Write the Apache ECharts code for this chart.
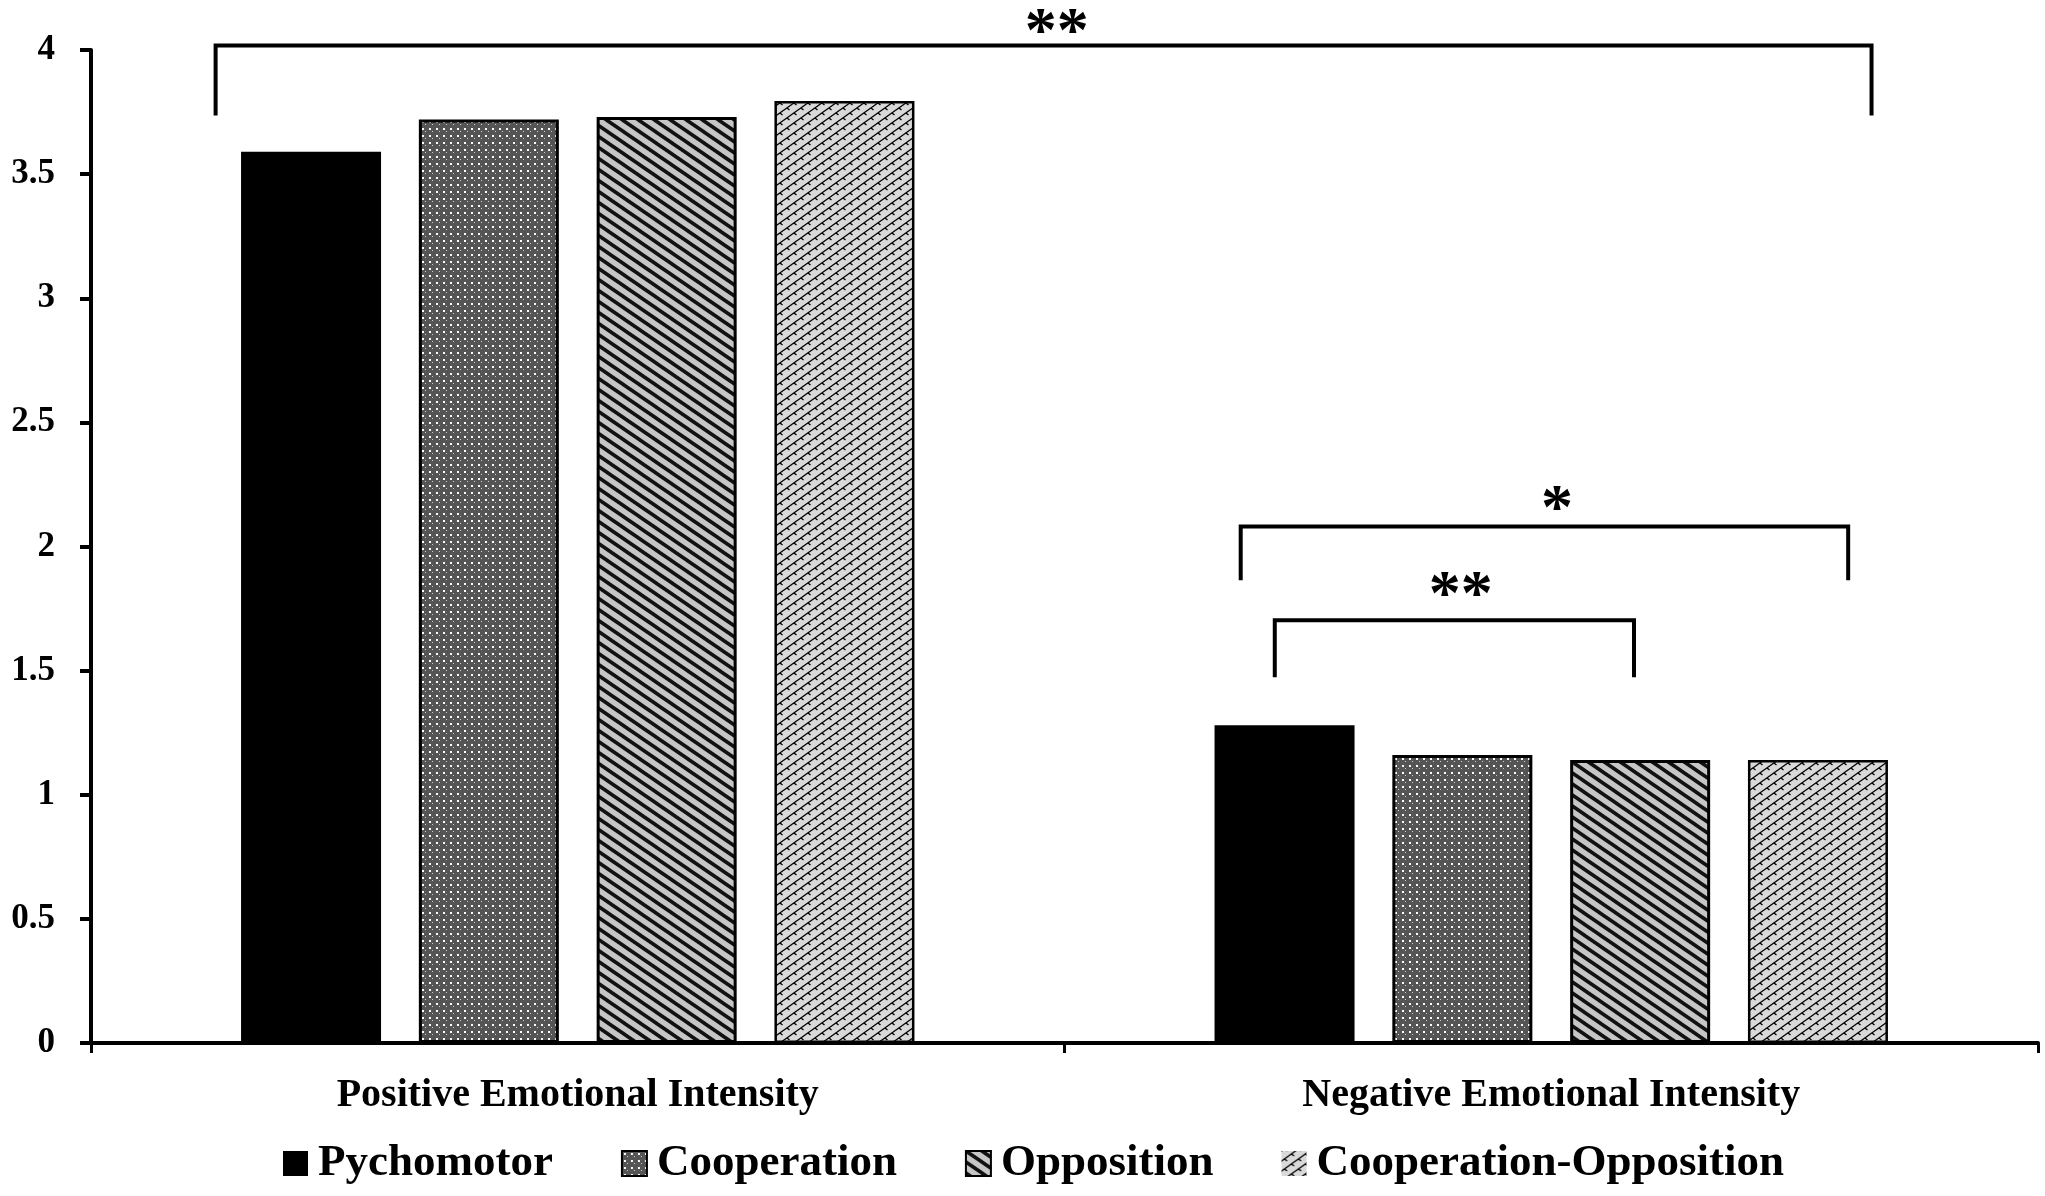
<!DOCTYPE html>
<html>
<head>
<meta charset="utf-8">
<script src="https://cdn.jsdelivr.net/npm/echarts@6/dist/echarts.min.js"></script>
<style>
html,body{margin:0;padding:0;background:#fff;}
#chart{width:2045px;height:1196px;}
</style>
</head>
<body>
<div id="chart"></div>
<script>
// ---- data ----
var categories = ['Positive Emotional Intensity', 'Negative Emotional Intensity'];
var seriesNames = ['Pychomotor', 'Cooperation', 'Opposition', 'Cooperation-Opposition'];
var pychomotor = [3.59, 1.28];
var cooperation = [3.72, 1.16];
var opposition = [3.73, 1.14];
var coopOpp = [3.795, 1.14];
var yTicks = [0, 0.5, 1, 1.5, 2, 2.5, 3, 3.5, 4];
// significance brackets: [xStart, xEnd, yTop, yDropLeft, yDropRight] (x in category units 0..2)
var brackets = [
  [0.128, 1.829, 4.018, 3.736, 3.736],
  [1.181, 1.805, 2.081, 1.864, 1.864],
  [1.216, 1.585, 1.703, 1.473, 1.473]
];
var bracketLabels = ['**', '*', '**'];
var bracketLabelPos = [[0.992, 4.10], [1.506, 2.178], [1.407, 1.832]];

// ---- patterns ----
function tile(w, h, draw) {
  var c = document.createElement('canvas');
  c.width = w; c.height = h;
  var ctx = c.getContext('2d');
  draw(ctx, w, h);
  return {image: c, repeat: 'repeat'};
}
var patCoop = tile(7, 7, function (ctx, w, h) {
  ctx.fillStyle = '#555555'; ctx.fillRect(0, 0, w, h);
  ctx.fillStyle = '#ffffff'; ctx.fillRect(2, 2, 2, 2);
  ctx.fillStyle = '#cfcfcf'; ctx.fillRect(5, 5, 1, 1);
});
var patOpp = tile(16, 11, function (ctx, w, h) {
  ctx.fillStyle = '#c6c6c6'; ctx.fillRect(0, 0, w, h);
  ctx.strokeStyle = '#111'; ctx.lineWidth = 3.6;
  for (var k = -1; k <= 1; k++) {
    ctx.beginPath();
    ctx.moveTo(-2, k * h + (-2) * h / w);
    ctx.lineTo(w + 2, k * h + (w + 2) * h / w);
    ctx.stroke();
  }
});
var patCO = tile(14, 10, function (ctx, w, h) {
  ctx.fillStyle = '#d9d9d9'; ctx.fillRect(0, 0, w, h);
  ctx.strokeStyle = '#000'; ctx.lineWidth = 1.3;
  for (var k = 0; k <= 2; k++) {
    ctx.beginPath();
    ctx.moveTo(-2, k * h + 2 * h / w);
    ctx.lineTo(w + 2, k * h - (w + 2) * h / w);
    ctx.stroke();
  }
  ctx.beginPath();
  ctx.moveTo(3, 7.9); ctx.lineTo(5.5, 10);
  ctx.moveTo(3, -2.1); ctx.lineTo(5.5, 0);
  ctx.moveTo(10, 2.9); ctx.lineTo(12.5, 5);
  ctx.stroke();
});

var font = 'Liberation Serif';
var chart = echarts.init(document.getElementById('chart'), null, {renderer: 'canvas'});

function barSeries(name, data, color, border, bw) {
  return {
    name: name, type: 'bar', data: data, barWidth: 140, barGap: '27%',
    itemStyle: {color: color, borderColor: border, borderWidth: bw},
    xAxisIndex: 0, yAxisIndex: 0
  };
}

var option = {
  animation: false,
  backgroundColor: '#ffffff',
  grid: {left: 91, right: 7, top: 50, bottom: 153, containLabel: false},
  legend: {
    left: 278, top: 1136, icon: 'rect',
    itemWidth: 25, itemHeight: 25, itemGap: 68,
    textStyle: {fontFamily: font, fontWeight: 'bold', fontSize: 45, color: '#000', padding: [0, 0, 0, 5]},
    data: [
      {name: 'Pychomotor'},
      {name: 'Cooperation'},
      {name: 'Opposition'},
      {name: 'Cooperation-Opposition', itemStyle: {borderWidth: 0}}
    ]
  },
  xAxis: [{
    type: 'category', data: categories, boundaryGap: true,
    axisLine: {lineStyle: {color: '#000', width: 4}},
    axisTick: {show: true, length: 10, lineStyle: {color: '#000', width: 3}},
    axisLabel: {fontFamily: font, fontWeight: 'bold', fontSize: 40, color: '#000', margin: 33}
  }, {
    type: 'value', min: 0, max: 2, show: false
  }],
  yAxis: [{
    type: 'value', min: 0, max: 4, interval: 0.5,
    splitLine: {show: false},
    axisLine: {show: true, lineStyle: {color: '#000', width: 4}},
    axisTick: {show: true, length: 11, lineStyle: {color: '#000', width: 4}},
    axisLabel: {
      fontFamily: font, fontWeight: 'bold', fontSize: 35, color: '#000', margin: 36,
      formatter: function (v) { return yTicks.indexOf(v) >= 0 ? String(v) : ''; }
    }
  }],
  series: [
    barSeries(seriesNames[0], pychomotor, '#000000', '#000', 0),
    barSeries(seriesNames[1], cooperation, patCoop, '#000', 3),
    barSeries(seriesNames[2], opposition, patOpp, '#000', 3),
    barSeries(seriesNames[3], coopOpp, patCO, '#000', 2.5),
    {
      type: 'custom', xAxisIndex: 1, yAxisIndex: 0, clip: false, z: 10,
      silent: true,
      data: brackets,
      dimensions: ['x1', 'x2', 'yt', 'yl', 'yr'],
      encode: {x: [0, 1], y: [2, 3, 4]},
      renderItem: function (params, api) {
        var x1 = api.value(0), x2 = api.value(1), yt = api.value(2), yl = api.value(3), yr = api.value(4);
        var p1 = api.coord([x1, yl]), p2 = api.coord([x1, yt]), p3 = api.coord([x2, yt]), p4 = api.coord([x2, yr]);
        var lp = bracketLabelPos[params.dataIndex];
        var lc = api.coord([lp[0], lp[1]]);
        return {
          type: 'group',
          children: [{
            type: 'polyline',
            shape: {points: [p1, p2, p3, p4]},
            style: {stroke: '#000', lineWidth: 4, fill: null}
          }, {
            type: 'text',
            style: {
              text: bracketLabels[params.dataIndex], x: lc[0], y: lc[1] + 9,
              align: 'center', verticalAlign: 'middle',
              font: 'bold 64px "' + font + '"', fill: '#000'
            }
          }]
        };
      }
    }
  ]
};
chart.setOption(option);
</script>
</body>
</html>
